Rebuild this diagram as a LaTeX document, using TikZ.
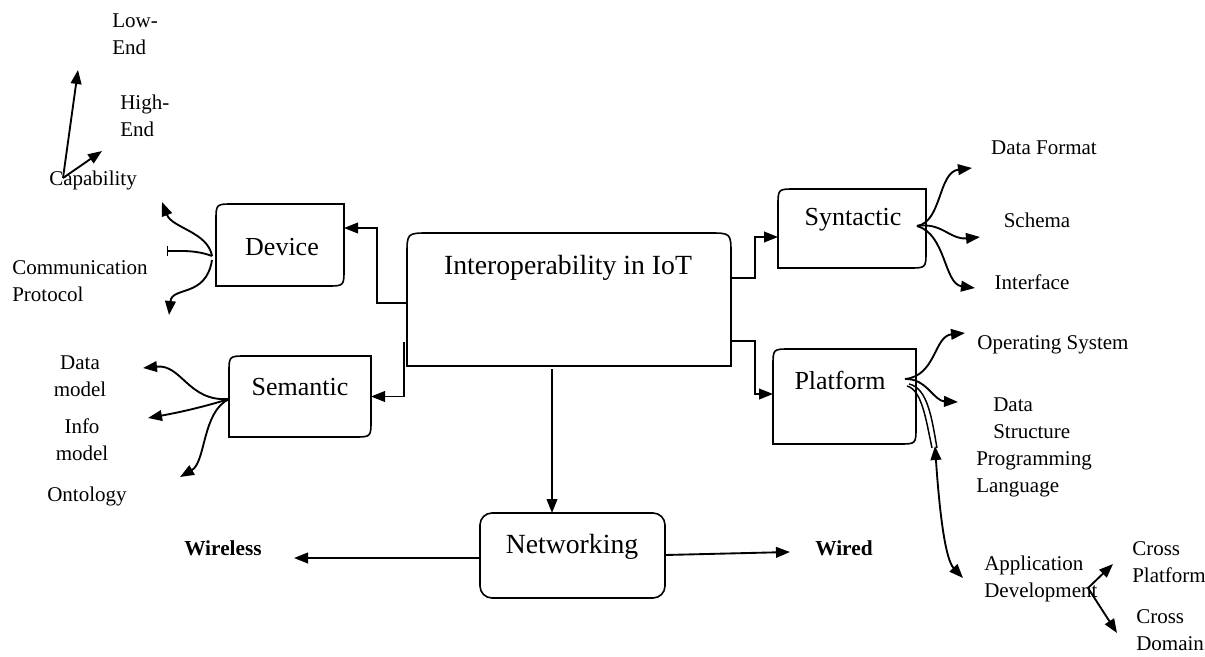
\documentclass[tikz,border=0pt]{standalone}
\usepackage{fontspec}
\setmainfont{Liberation Serif}
\usetikzlibrary{arrows.meta,calc,fit}
\newcommand\outlineTLBR[2]{%
 \draw[boxline] (#1.south west) -- ($(#1.north west)+(0,#2)$) .. controls (#1.north west) .. ($(#1.north west)+(#2,0)$) -- (#1.north east) -- ($(#1.south east)+(0,-#2)$) .. controls (#1.south east) .. ($(#1.south east)+(-#2,0)$) -- cycle;}
\begin{document}
\begin{tikzpicture}[x=0.75pt,y=-0.75pt,
  boxline/.style={line width=1.2pt},
  conn/.style={line width=1.4pt},
  tip/.style={-{Triangle[length=10.5pt,width=8pt]}},
  arr/.style={conn,tip},
  barend/.style={conn,-{Bar[width=8pt,line width=1.1pt]}},
  dblarr/.style={conn,{Triangle[length=10.5pt,width=8pt]}-{Triangle[length=10.5pt,width=8pt]}},
  frame/.style={inner sep=0pt,outer sep=0pt},
  lab/.style={inner sep=0pt,font=\fontsize{15.75pt}{20.25pt}\selectfont,align=left},
  clab/.style={lab,align=center},
  blab/.style={lab,font=\fontsize{16pt}{20pt}\selectfont\bfseries},
  boxlab/.style={inner sep=0pt,font=\fontsize{19.5pt}{23pt}\selectfont},
  biglab/.style={inner sep=0pt,font=\fontsize{20.8pt}{25pt}\selectfont}]
\useasboundingbox (0,0) rectangle (1205,656);

% ---- boxes
\node[frame,fit={(407,233) (731,366)}] (main) {};
\node[frame,fit={(216,204) (344,286)}] (device) {};
\node[frame,fit={(229,356) (371,437)}] (semantic) {};
\node[frame,fit={(778,189) (926,268)}] (syntactic) {};
\node[frame,fit={(773,349) (916,444)}] (platform) {};
\node[frame,draw,line width=1.2pt,rounded corners=9pt,fit={(480,513) (665,598)}] (networking) {};

\draw[boxline] (main.south west) -- ($(main.north west)+(0,22)$) .. controls (main.north west) .. ($(main.north west)+(22,0)$) -- ($(main.north east)+(-22,0)$) .. controls (main.north east) .. ($(main.north east)+(0,22)$) -- (main.south east) -- cycle;
\outlineTLBR{device}{17}
\outlineTLBR{semantic}{17}
\outlineTLBR{syntactic}{17}
\outlineTLBR{platform}{17}

% ---- box labels
\node[biglab] (mainlab) at (568,268) {Interoperability in IoT};
\node[boxlab] (devicelab) at (282,247) {Device};
\node[boxlab] (semanticlab) at (300,387) {Semantic};
\node[boxlab] (syntacticlab) at (853,220) {Syntactic};
\node[boxlab] (platformlab) at (840,380) {Platform};
\node[biglab] (networkinglab) at (572,547) {Networking};

% ---- leaf labels
\node[lab,anchor=west] (lowend) at (112,34) {Low-\\End};
\node[lab,anchor=west] (highend) at (120,116) {High-\\End};
\node[lab,anchor=west] (capability) at (49,180) {Capability};
\node[lab,anchor=west] (commprot) at (12,281) {Communication\\Protocol};
\node[clab] (datamodel) at (80,376.5) {Data\\model};
\node[clab] (infomodel) at (82,439.5) {Info\\model};
\node[lab] (ontology) at (87,496) {Ontology};
\node[blab] (wireless) at (223,548) {Wireless};
\node[blab] (wired) at (844,548) {Wired};
\node[lab] (dataformat) at (1044,148) {Data Format};
\node[lab] (schema) at (1037,220) {Schema};
\node[lab] (interface) at (1032,282) {Interface};
\node[lab] (os) at (1053,345) {Operating System};
\node[lab,anchor=west] (datastruct) at (993,418.5) {Data\\Structure};
\node[lab,anchor=west] (proglang) at (976,474) {Programming\\Language};
\node[lab,anchor=west] (appdev) at (984,578.5) {Application\\Development};
\node[lab,anchor=west] (crossplat) at (1132,562.5) {Cross\\Platform};
\node[lab,anchor=west] (crossdom) at (1136,630) {Cross\\Domain};

% ---- main connectors
\draw[arr] ($(main.north west)+(0,70)$) -| ($(device.north east)+(33,24)$) -- ($(device.north east)+(0,24)$);
\draw[arr] ($(main.north west)+(-3,109)$) |- (semantic.east);
\draw[arr] ($(main.north east)+(0,45)$) -- ++(24,0) |- ($(syntactic.north west)+(0,48)$);
\draw[arr] ($(main.north east)+(0,108)$) -- ++(24,0) |- ($(platform.north west)+(0,45)$);
\draw[arr] ($(main.south west)+(145,3)$) -- ($(networking.north west)+(72,0)$);
\draw[arr] ($(networking.north west)+(0,45)$) -- ($(networking.north west)+(-186,45)$);
\draw[arr] ($(networking.north east)+(0,42)$) -- ($(networking.north east)+(125,39)$);

% ---- capability
\coordinate (capO) at ($(capability.west)+(14,-2)$);
\coordinate (tLow) at (78,70);
\coordinate (tHigh) at (102,151);
\draw[arr] (capO) -- (tLow);
\draw[arr] (capO) -- (tHigh);

% ---- device branches
\coordinate (devO) at ($(device.west)+(-4,11)$);
\coordinate (tDevUp) at (162,202);
\coordinate (tDevBar) at (167,251);
\coordinate (tDevDown) at (169,315);
\draw[arr] (devO) .. controls (208,232) and (172,228) .. (tDevUp);
\draw[barend] (devO) .. controls (196,250) and (182,251) .. (tDevBar);
\draw[arr] ($(devO)+(0,4)$) .. controls (206,298) and (172,286) .. (tDevDown);

% ---- semantic branches
\coordinate (semO) at ($(semantic.west)+(0,2.5)$);
\coordinate (tData) at (143,368);
\coordinate (tInfo) at (148,418);
\coordinate (tOnto) at (180,477);
\draw[arr] (semO) .. controls (188,402) and (182,364) .. (tData);
\draw[arr] (semO) .. controls (200,408) and (176,413) .. (tInfo);
\draw[arr] (semO) .. controls (202,412) and (206,462) .. (tOnto);

% ---- syntactic branches
\coordinate (synO) at ($(syntactic.east)+(-9,-2.5)$);
\coordinate (tDF) at (972,168);
\coordinate (tSch) at (980,237);
\coordinate (tInt) at (975,288);
\draw[arr] (synO) .. controls (942,222) and (938,172) .. (tDF);
\draw[arr] (synO) .. controls (942,222) and (950,240) .. (tSch);
\draw[arr] (synO) .. controls (946,234) and (944,284) .. (tInt);

% ---- platform branches
\coordinate (plO) at ($(platform.east)+(-11,-17.5)$);
\coordinate (tOS) at (965,333);
\coordinate (tDS) at (958,402);
\coordinate (tUp) at (935,446);
\coordinate (tApp) at (963,578);
\draw[arr] (plO) .. controls (936,376) and (934,336) .. (tOS);
\draw[arr] (plO) .. controls (926,378) and (934,401) .. (tDS);
\draw[conn,line width=1.1pt] ($(plO)+(2,7)$) .. controls (922,390) and (926,420) .. ($(tUp)+(-3,2)$);
\draw[conn,line width=1.1pt] ($(plO)+(4,5)$) .. controls (928,388) and (932,420) .. ($(tUp)+(2,2)$);
\draw[dblarr] (tUp) .. controls (940,520) and (946,560) .. (tApp);

% ---- application development
\coordinate (appO) at (1088,588);
\coordinate (tCP) at (1113,564);
\coordinate (tCD) at (1117,633);
\draw[arr] (appO) -- (tCP);
\draw[arr] (appO) -- (tCD);
\end{tikzpicture}
\end{document}
